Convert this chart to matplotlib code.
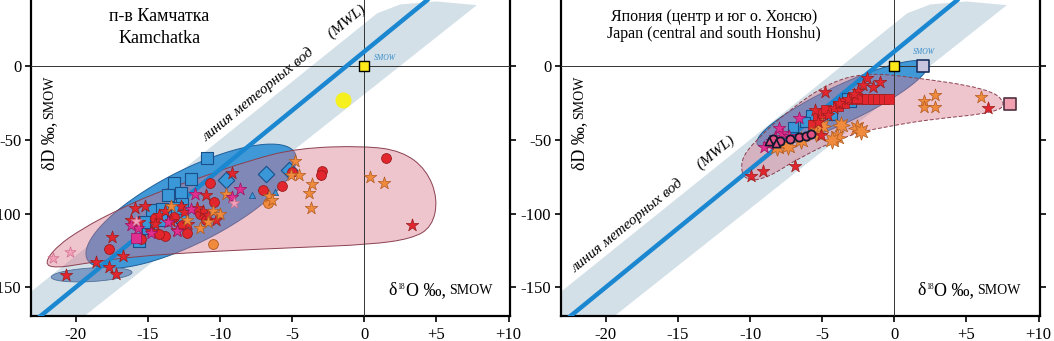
import numpy as np
import matplotlib
matplotlib.use("Agg")
import matplotlib.pyplot as plt
from matplotlib.path import Path
from matplotlib.patches import PathPatch, Polygon

plt.rcParams['font.family'] = ['Liberation Serif', 'DejaVu Serif']
plt.rcParams['mathtext.fontset'] = 'stix'

# axis settings
xlim = (-23.1, 10.1)
ylim = (-169.5, 45)
xticks = [-20, -15, -10, -5, 0, 5, 10]
xticklabels = ['-20', '-15', '-10', '-5', '0', '+5', '+10']
yticks = [0, -50, -100, -150]
yticklabels = ['0', '-50', '-100', '-150']

# meteoric water line dD = 8*d18O + 10
mwl_slope, mwl_icept = 8, 10

# light band around the MWL
band_x = [-31.6, 0.9, 2.5, 5.0, 7.8, -25.9]
band_y = [-220, 36, 42, 44, 41.5, -220]

# ---------- Kamchatka ----------
kam_pink_x = [-22.2, -21.3, -19.5, -17.4, -14.5, -11.5, -8.0, -4.6, 0.0, 2.6, 4.3, 5.1,
              4.7, 3.3, 0.4, -4.6, -10.3, -16.0, -19.5, -21.4]
kam_pink_y = [-134, -122, -110, -99, -86, -76, -64, -55.5, -54, -57.5, -70, -90,
              -109, -117, -121, -123, -125.5, -129, -134, -137]
kam_blue_ell = dict(c=(-12.0, -95.0), u=(7.2, 36.0), v=(-1.15, 22.0))
kam_dark_ell = dict(c=(-18.9, -141.5), u=(2.8, 1.6), v=(0.0, 4.6))

kam_sq_x = [-10.9, -12.0, -13.2, -12.7, -13.6, -12.6, -14.7, -14.0, -14.1, -15.6, -12.6, -15.0, -13.0, -15.3]
kam_sq_y = [-62, -76.4, -79, -85.7, -87.5, -93.4, -97.5, -97, -104, -118.5, -102, -110, -96, -106]
kam_dia_x = [-9.6, -6.8, -5.2]
kam_dia_y = [-77, -73, -70.5]
kam_tri_x = [-7.8, -6.2]
kam_tri_y = [-87.3, -85]
kam_red_star_x = [3.3, -17.5, -20.7, -17.2, -18.6, -16.7, -17.7, -15.9, -15.2, -11.0, -10.3, -12.7,
                  -14.2, -13.4, -15.6, -12.5, -14.8, -13.0, -11.2, -10.8, -16.2, -9.2, -12.2, -13.8,
                  -11.6, -14.5]
kam_red_star_y = [-108, -116, -142, -141, -133, -128.5, -136, -96, -94.5, -87.5, -104, -95,
                  -101, -105, -106, -99, -112, -111, -98, -101, -104, -72.2, -107, -98,
                  -96, -107]
kam_red_dot_x = [1.5, -2.9, -3.0, -5.0, -5.7, -7.0, -10.7, -10.4, -17.7, -12.6, -13.8, -14.2,
                 -12.3, -11.4, -11.0, -14.5, -13.2, -15.5]
kam_red_dot_y = [-62, -71, -74, -72, -81, -84, -79.5, -92, -124, -108, -115, -114,
                 -113, -100, -104, -103, -102, -117]
kam_org_star_x = [0.4, 1.4, -3.6, -3.8, -3.7, -4.5, -4.8, -5.1, -6.6, -6.4, -9.6, -11.4,
                  -10.5, -10.0, -12.3, -13.4, -10.8]
kam_org_star_y = [-75, -79, -80, -86, -96, -74, -64, -74, -88, -91, -87, -110,
                  -98, -100, -104, -95, -106]
kam_org_dot_x = [-10.5, -6.7]
kam_org_dot_y = [-120.5, -93]
kam_mag_star_x = [-8.6, -9.2, -11.7, -15.7, -14.8, -13.0, -12.0, -16.2, -13.6]
kam_mag_star_y = [-83, -88.5, -87, -110, -113, -112, -97, -108, -106]
kam_pale_star_x = [-20.4, -21.6, -9.0, -15.8]
kam_pale_star_y = [-126, -130, -93, -105]
kam_mag_sq_x = [-15.8]
kam_mag_sq_y = [-116.5]
kam_ycirc_x = [-1.5]
kam_ycirc_y = [-22.8]

# ---------- Japan ----------
jp_pink_x = [-10.4, -8.8, -6.6, -3.1, 0.3, 2.6, 7.0, 7.8, 6.5, 1.0, -2.0, -4.5, -7.2, -9.6, -10.7]
jp_pink_y = [-78, -76, -62, -46, -39.5, -36, -31.5, -25, -15, -7, -4.5, -11, -29, -50, -64]
jp_blue_ell = dict(c=(-3.6, -25.6), u=(5.9, 27.2), v=(-0.55, 11.5))

jp_lav_sq_x = [2.0]
jp_lav_sq_y = [0]
jp_pink_sq_x = [8.0]
jp_pink_sq_y = [-25.5]
jp_red_sq_x = [-2.3, -1.9, -1.5, -1.1, -0.7, -0.35, -5.3, -5.0, -3.9, -3.5, -2.9, -2.6, -5.6, -4.7]
jp_red_sq_y = [-22, -22, -22, -22, -22, -22, -35, -32, -27, -25, -22, -21.5, -40, -30]
jp_red_star_x = [-1.0, -4.8, -1.9, -2.2, -9.9, -9.1, -6.9, 6.5, -5.1, -1.5, -2.5, -3.2,
                 -4.2, -4.6, -5.3, -5.5, -3.8, -2.8]
jp_red_star_y = [-10.5, -17.2, -8, -12.7, -74.4, -70.8, -68, -28, -46.6, -14, -17, -22,
                 -28, -33, -38, -30, -25, -19]
jp_blue_sq_x = [-3.3, -5.8, -4.3, -6.2, -7.0, -3.0]
jp_blue_sq_y = [-21.7, -33, -33, -37.6, -41, -24]
jp_org_big_x = [-2.6, -3.7, -4.0, -4.3, -5.4, -5.0, -8.1, -7.4, -6.5, -2.3]
jp_org_big_y = [-42, -39.8, -47.7, -50, -45.4, -40.5, -54.5, -54, -50, -44]
jp_org_star_x = [6.0, 2.07, 2.07, 2.8, 2.8]
jp_org_star_y = [-20.6, -23.3, -27.4, -19.4, -27.8]
jp_mag_star_x = [-8.7, -8.3, -7.8, -8.0, -9.0, -6.6, -8.5, -7.3]
jp_mag_star_y = [-53, -48, -45, -42, -55, -35.3, -51, -47]
jp_ring_x = [-8.4, -7.9, -7.25, -6.6, -6.1, -5.8]
jp_ring_y = [-49.3, -51, -49.3, -47.7, -47.3, -46]
jp_tri_x = [-8.7, -8.2]
jp_tri_y = [-51, -52]

smow_x, smow_y = [0], [0]

# colours
band_col = '#d3e0e8'
mwl_col = '#1b87d0'
blue_col = '#4098d6'
pink_col = '#d8748a'
red = '#e3262e'
orange = '#f08a3c'
magenta = '#e0308f'
pale = '#f3a0b8'


def smooth_path(xs, ys):
    pts = np.column_stack([xs, ys])
    mids = (pts + np.roll(pts, -1, axis=0)) / 2
    verts = [mids[-1]]
    codes = [Path.MOVETO]
    for i in range(len(pts)):
        verts += [pts[i], mids[i]]
        codes += [Path.CURVE3, Path.CURVE3]
    return Path(verts, codes)


def ellipse_xy(c, u, v):
    t = np.linspace(0, 2 * np.pi, 120)
    x = c[0] + u[0] * np.cos(t) + v[0] * np.sin(t)
    y = c[1] + u[1] * np.cos(t) + v[1] * np.sin(t)
    return np.column_stack([x, y])


def setup(ax):
    ax.set_xlim(xlim)
    ax.set_ylim(ylim)
    ax.set_xticks(xticks)
    ax.set_xticklabels(xticklabels)
    ax.set_yticks(yticks)
    ax.set_yticklabels(yticklabels)
    ax.tick_params(direction='out', length=4, width=1.2, labelsize=12, right=True)
    ax.tick_params(axis='x', pad=4)
    ax.tick_params(axis='y', pad=3)
    ax.spines['top'].set_visible(False)
    for s in ['left', 'right', 'bottom']:
        ax.spines[s].set_linewidth(1.6)
    ax.axhline(0, color='#333333', lw=0.7, zorder=3)
    ax.axvline(0, color='#333333', lw=0.7, zorder=3)
    ax.add_patch(Polygon(np.column_stack([band_x, band_y]), closed=True,
                         facecolor=band_col, edgecolor='none', zorder=0.5))
    xx = np.array([-30, 10])
    ax.plot(xx, mwl_slope * xx + mwl_icept, color=mwl_col, lw=3.2, zorder=4,
            solid_capstyle='butt')
    ax.scatter(smow_x, smow_y, marker='s', s=45, facecolor='#ffe81a',
               edgecolor='black', linewidths=1.0, zorder=6)


def labels(ax, mwl_xy, xlab_x, smow_xy):
    t1 = ax.text(-21.8, -54, 'δD ‰,', rotation=90, fontsize=13, ha='center',
                 va='center')
    ax.annotate('SMOW', xy=(0.5, 1), xycoords=t1, xytext=(0, 2),
                textcoords='offset points', rotation=90, fontsize=10,
                ha='center', va='bottom')
    d = ax.text(xlab_x, -158, 'δ', fontsize=13, ha='left', va='bottom')
    ax.annotate('18', xy=(1, 1), xycoords=d, xytext=(0.3, -0.8),
                textcoords='offset points', fontsize=5.5, ha='left', va='top')
    o = ax.annotate('O ‰,', xy=(1, 0), xycoords=d, xytext=(6.0, 0),
                    textcoords='offset points', fontsize=13, ha='left', va='bottom')
    ax.annotate('SMOW', xy=(1, 0), xycoords=o, xytext=(2.5, 1.5),
                textcoords='offset points', fontsize=10, ha='left', va='bottom')
    p1 = ax.transData.transform((-15, mwl_slope * -15 + mwl_icept))
    p2 = ax.transData.transform((0, mwl_icept))
    ang = np.degrees(np.arctan2(p2[1] - p1[1], p2[0] - p1[0]))
    ax.text(mwl_xy[0], mwl_xy[1], 'линия метеорных вод      (MWL)', style='italic',
            fontsize=11, rotation=ang, rotation_mode='anchor', ha='center',
            va='center')
    ax.text(smow_xy[0], smow_xy[1], 'SMOW', style='italic', fontsize=5.5,
            color='#3a8cc8', ha='left', va='center')


def regions(ax, pink_x, pink_y, ell, dashed):
    ax.add_patch(Polygon(ellipse_xy(**ell), closed=True, facecolor=blue_col,
                         edgecolor='#1f5f9a', lw=0.7, zorder=1))
    ax.add_patch(PathPatch(smooth_path(pink_x, pink_y), facecolor=pink_col,
                           alpha=0.42, edgecolor='none', zorder=2))
    ax.add_patch(PathPatch(smooth_path(pink_x, pink_y), facecolor='none',
                           edgecolor='#8a4050', lw=0.7,
                           ls=(0, (4, 2)) if dashed else '-', zorder=2))


fig = plt.figure(figsize=(10.54, 3.41), dpi=100)
ax1 = fig.add_axes([31 / 1054, 25 / 341, 479 / 1054, 316 / 341])
ax2 = fig.add_axes([561 / 1054, 25 / 341, 479 / 1054, 316 / 341])

# ---- left panel ----
setup(ax1)
regions(ax1, kam_pink_x, kam_pink_y, kam_blue_ell, False)
ax1.add_patch(Polygon(ellipse_xy(**kam_dark_ell), closed=True, facecolor='#7e9cc4',
                      edgecolor='#50709a', lw=0.6, zorder=1))
ax1.scatter(kam_ycirc_x, kam_ycirc_y, s=110, color='#f5f01e', zorder=5)
ax1.scatter(kam_sq_x, kam_sq_y, marker='s', s=70, facecolor='#3a98d8',
            edgecolor='#1a4f8a', lw=0.8, zorder=5)
ax1.scatter(kam_dia_x, kam_dia_y, marker='D', s=70, facecolor='#3a98d8',
            edgecolor='#1a4f8a', lw=0.8, zorder=5)
ax1.scatter(kam_tri_x, kam_tri_y, marker='^', s=20, facecolor='#3a98d8',
            edgecolor='#1a4f8a', lw=0.5, zorder=5)
ax1.scatter(kam_red_dot_x, kam_red_dot_y, marker='o', s=50, facecolor=red,
            edgecolor='#9a1c1c', lw=0.6, zorder=5)
ax1.scatter(kam_org_dot_x, kam_org_dot_y, marker='o', s=50, facecolor=orange,
            edgecolor='#b05a20', lw=0.6, zorder=5)
ax1.scatter(kam_red_star_x, kam_red_star_y, marker='*', s=90, facecolor=red,
            edgecolor='#9a1c1c', lw=0.5, zorder=6)
ax1.scatter(kam_org_star_x, kam_org_star_y, marker='*', s=90, facecolor=orange,
            edgecolor='#b05a20', lw=0.5, zorder=6)
ax1.scatter(kam_mag_star_x, kam_mag_star_y, marker='*', s=90, facecolor=magenta,
            edgecolor='#a01060', lw=0.5, zorder=6)
ax1.scatter(kam_pale_star_x, kam_pale_star_y, marker='*', s=70, facecolor=pale,
            edgecolor='#d07090', lw=0.5, zorder=6)
ax1.scatter(kam_mag_sq_x, kam_mag_sq_y, marker='s', s=60, facecolor=magenta,
            edgecolor='#a01060', lw=0.5, zorder=6)
ax1.text(-14.2, 33.5, 'п-в Камчатка', fontsize=13, ha='center', va='center')
ax1.text(-14.2, 19.0, 'Kamchatka', fontsize=13, ha='center', va='center')
labels(ax1, (-5.5, -4.9), 1.7, (0.7, 5.6))

# ---- right panel ----
setup(ax2)
regions(ax2, jp_pink_x, jp_pink_y, jp_blue_ell, True)
ax2.scatter(jp_lav_sq_x, jp_lav_sq_y, marker='s', s=75, facecolor='#c8c4e0',
            edgecolor='#1a3060', lw=1.2, zorder=6)
ax2.scatter(jp_pink_sq_x, jp_pink_sq_y, marker='s', s=75, facecolor='#f0a0b0',
            edgecolor='#503040', lw=1.2, zorder=6)
ax2.scatter(jp_blue_sq_x, jp_blue_sq_y, marker='s', s=45, facecolor='#3a98d8',
            edgecolor='#1a4f8a', lw=0.8, zorder=5)
ax2.scatter(jp_red_sq_x, jp_red_sq_y, marker='s', s=55, facecolor=red,
            edgecolor='#9a1c1c', lw=0.5, zorder=5)
ax2.scatter(jp_org_big_x, jp_org_big_y, marker=(8, 1, 0), s=160, facecolor=orange,
            edgecolor='#b05a20', lw=0.5, zorder=5)
ax2.scatter(jp_red_star_x, jp_red_star_y, marker='*', s=90, facecolor=red,
            edgecolor='#9a1c1c', lw=0.5, zorder=6)
ax2.scatter(jp_org_star_x, jp_org_star_y, marker='*', s=90, facecolor=orange,
            edgecolor='#b05a20', lw=0.5, zorder=6)
ax2.scatter(jp_mag_star_x, jp_mag_star_y, marker='*', s=90, facecolor=magenta,
            edgecolor='#a01060', lw=0.5, zorder=6)
ax2.scatter(jp_ring_x, jp_ring_y, marker='o', s=35, facecolor='#e05080',
            edgecolor='#101830', lw=1.3, zorder=7)
ax2.scatter(jp_tri_x, jp_tri_y, marker='^', s=35, facecolor='#e05080',
            edgecolor='#101830', lw=1.2, zorder=7)
ax2.text(-12.5, 33.5, 'Япония (центр и юг о. Хонсю)', fontsize=11.5, ha='center',
         va='center')
ax2.text(-12.5, 22.0, 'Japan (central and south Honshu)', fontsize=11.5,
         ha='center', va='center')
labels(ax2, (-16.7, -93.4), 1.6, (1.3, 10.0))

fig.savefig('out.png', dpi=100)
